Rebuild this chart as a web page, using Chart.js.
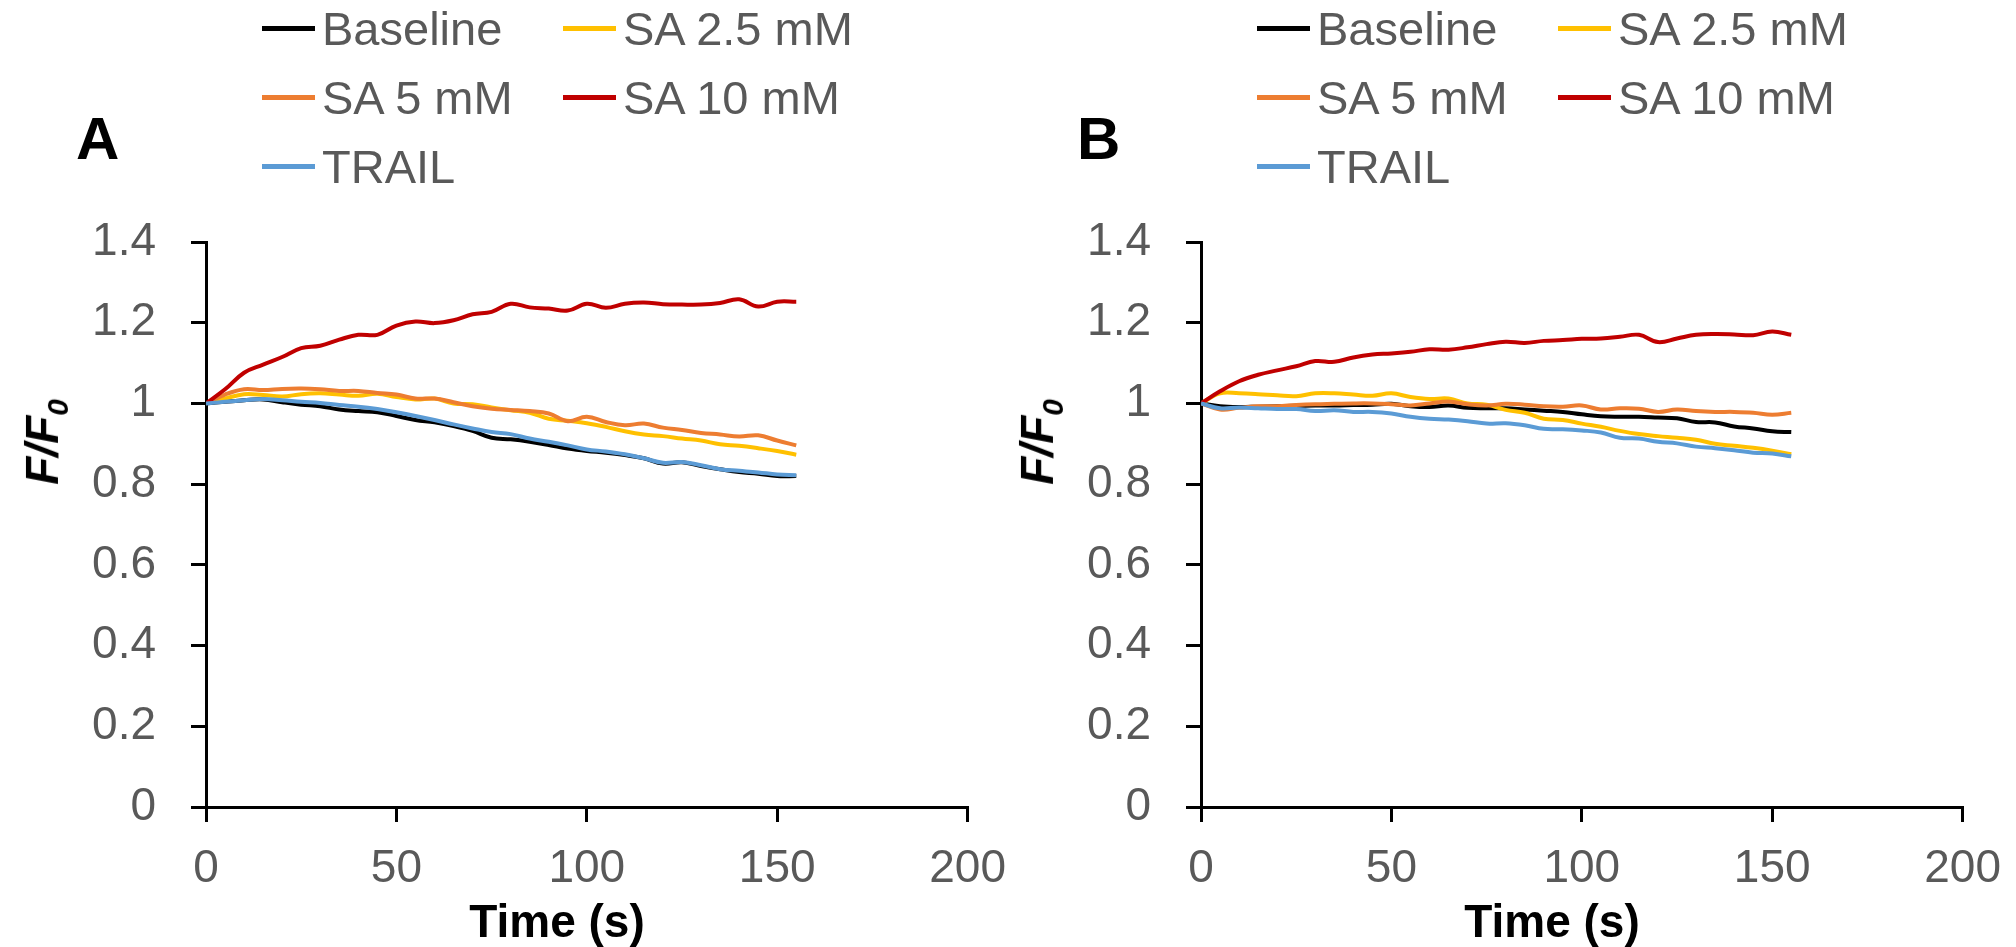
<!DOCTYPE html>
<html lang="en">
<head>
<meta charset="UTF-8" />
<title>F/F0 over time</title>
<script src="https://cdn.jsdelivr.net/npm/chart.js"></script>
<style>
  body {
    margin: 0;
    background: #fff;
    font-family: "Liberation Sans", Arial, sans-serif;
  }
  #page {
    position: relative;
    width: 2016px;
    height: 947px;
    overflow: hidden;
  }
  .panel {
    position: absolute;
    top: 0;
    width: 1008px;
    height: 947px;
  }
  .panel canvas {
    position: absolute;
    left: 0;
    top: 0;
  }
  .letter {
    position: absolute;
    top: 109px;
    font-size: 60px;
    font-weight: bold;
    line-height: 1;
    color: #000;
  }
  .ytitle {
    position: absolute;
    left: 46px;
    top: 442px;
    transform: translate(-50%, -50%) rotate(-90deg);
    font-size: 46px;
    font-weight: bold;
    font-style: italic;
    line-height: 1;
    white-space: nowrap;
    color: #000;
  }
  .ytitle sub {
    font-size: 0.65em;
  }
  .xtitle {
    position: absolute;
    left: 557px;
    top: 898px;
    transform: translateX(-50%);
    font-size: 46px;
    font-weight: bold;
    line-height: 1;
    white-space: nowrap;
    color: #000;
  }
  .legend {
    position: absolute;
    left: 262px;
    top: -6px;
    display: grid;
    grid-template-columns: 301px auto;
    grid-auto-rows: 69px;
  }
  .legend .item {
    display: flex;
    align-items: center;
    font-size: 47px;
    line-height: 1;
    color: #595959;
    white-space: nowrap;
  }
  .legend .swatch {
    display: inline-block;
    width: 53px;
    height: 5px;
    margin-right: 7px;
  }
</style>
</head>
<body>
<div id="page">
  <div class="panel" id="panelA" style="left:0px">
    <canvas id="chartA" width="1026" height="947"></canvas>
    <div class="legend" id="legendA"></div>
    <div class="letter" style="left:76px">A</div>
    <div class="ytitle">F/F<sub>0</sub></div>
    <div class="xtitle">Time (s)</div>
  </div>
  <div class="panel" id="panelB" style="left:995px">
    <canvas id="chartB" width="1026" height="947"></canvas>
    <div class="legend" id="legendB"></div>
    <div class="letter" style="left:82px">B</div>
    <div class="ytitle">F/F<sub>0</sub></div>
    <div class="xtitle">Time (s)</div>
  </div>
</div>

<script>
  // time points (s)
  const time = [0, 5, 10, 15, 20, 25, 30, 35, 40, 45, 50, 55, 60, 65, 70, 75,
                80, 85, 90, 95, 100, 105, 110, 115, 120, 125, 130, 135, 140, 145, 150, 155];

  const seriesNames = ['Baseline', 'SA 2.5 mM', 'SA 5 mM', 'SA 10 mM', 'TRAIL'];
  const lineColors = ['#000000', '#FFC000', '#ED7D31', '#C00000', '#5B9BD5'];

  const yTicks = [0, 0.2, 0.4, 0.6, 0.8, 1, 1.2, 1.4];
  const xTicks = [0, 50, 100, 150, 200];

  // panel A
  const baselineA = [1.0, 1.004, 1.008, 1.010, 1.003, 0.997, 0.993, 0.985, 0.981, 0.978, 0.969, 0.959, 0.953, 0.944, 0.932, 0.915,
                     0.911, 0.905, 0.897, 0.888, 0.882, 0.878, 0.872, 0.864, 0.851, 0.854, 0.845, 0.837, 0.830, 0.826, 0.820, 0.820];
  const sa25A = [1.0, 1.012, 1.023, 1.021, 1.017, 1.023, 1.025, 1.022, 1.019, 1.024, 1.016, 1.010, 1.012, 1.0, 0.998, 0.990,
                 0.983, 0.977, 0.962, 0.957, 0.951, 0.942, 0.931, 0.923, 0.919, 0.913, 0.908, 0.899, 0.895, 0.889, 0.882, 0.873];
  const sa5A = [1.0, 1.022, 1.035, 1.033, 1.036, 1.037, 1.035, 1.031, 1.031, 1.026, 1.022, 1.012, 1.012, 1.003, 0.993, 0.987,
                0.984, 0.981, 0.975, 0.956, 0.967, 0.954, 0.946, 0.950, 0.940, 0.934, 0.927, 0.923, 0.918, 0.921, 0.908, 0.896];
  const sa10A = [1.0, 1.035, 1.076, 1.096, 1.115, 1.137, 1.143, 1.158, 1.170, 1.170, 1.193, 1.203, 1.199, 1.206, 1.221, 1.227,
                 1.247, 1.238, 1.235, 1.230, 1.247, 1.237, 1.247, 1.250, 1.246, 1.245, 1.245, 1.249, 1.258, 1.240, 1.252, 1.252];
  const trailA = [1.0, 1.004, 1.008, 1.011, 1.008, 1.004, 1.001, 0.996, 0.992, 0.986, 0.978, 0.969, 0.959, 0.948, 0.938, 0.929,
                  0.924, 0.913, 0.905, 0.896, 0.886, 0.881, 0.874, 0.864, 0.853, 0.855, 0.847, 0.837, 0.833, 0.829, 0.824, 0.822];

  // panel B
  const baselineB = [1.0, 0.993, 0.991, 0.992, 0.993, 0.994, 0.995, 0.995, 0.996, 0.997, 0.999, 0.993, 0.991, 0.995, 0.989, 0.988,
                     0.988, 0.985, 0.982, 0.979, 0.973, 0.968, 0.967, 0.967, 0.965, 0.963, 0.954, 0.953, 0.943, 0.938, 0.931, 0.929];
  const sa25B = [1.0, 1.025, 1.025, 1.023, 1.020, 1.018, 1.025, 1.025, 1.022, 1.019, 1.025, 1.016, 1.011, 1.012, 1.0, 0.997,
                 0.984, 0.977, 0.962, 0.959, 0.950, 0.942, 0.932, 0.924, 0.919, 0.915, 0.910, 0.900, 0.895, 0.890, 0.883, 0.874];
  const sa5B = [1.0, 0.985, 0.989, 0.993, 0.993, 0.996, 0.998, 0.999, 1.0, 1.0, 0.998, 0.995, 1.0, 1.005, 0.998, 0.995,
                0.999, 0.997, 0.993, 0.992, 0.995, 0.985, 0.988, 0.987, 0.979, 0.985, 0.981, 0.979, 0.979, 0.977, 0.972, 0.977];
  const sa10B = [1.0, 1.030, 1.055, 1.071, 1.082, 1.092, 1.105, 1.103, 1.114, 1.121, 1.124, 1.128, 1.134, 1.133, 1.139, 1.147,
                 1.153, 1.150, 1.155, 1.157, 1.160, 1.161, 1.165, 1.170, 1.152, 1.161, 1.170, 1.172, 1.171, 1.169, 1.178, 1.170];
  const trailB = [1.0, 0.988, 0.990, 0.988, 0.986, 0.986, 0.981, 0.983, 0.979, 0.979, 0.975, 0.967, 0.962, 0.960, 0.956, 0.950,
                  0.951, 0.946, 0.937, 0.936, 0.933, 0.928, 0.915, 0.913, 0.905, 0.901, 0.893, 0.889, 0.884, 0.878, 0.876, 0.869];

  Chart.defaults.font.family = '"Liberation Sans", Arial, sans-serif';

  function buildChart(canvasId, legendId, seriesValues) {
    const datasets = seriesValues.map((vals, i) => ({
      label: seriesNames[i],
      data: time.map((t, j) => ({ x: t, y: vals[j] })),
      borderColor: lineColors[i],
      backgroundColor: lineColors[i],
      borderWidth: 4,
      pointRadius: 0,
      tension: 0.4,
      fill: false,
      // later series drawn on top, like the original
      order: seriesNames.length - i
    }));

    const chart = new Chart(document.getElementById(canvasId), {
      type: 'line',
      data: { datasets },
      options: {
        responsive: false,
        animation: false,
        layout: { padding: { left: 0, right: 0, top: 242, bottom: 0 } },
        plugins: { legend: { display: false }, tooltip: { enabled: false } },
        scales: {
          x: {
            type: 'linear',
            min: 0,
            max: 200,
            afterBuildTicks: s => { s.ticks = xTicks.map(v => ({ value: v })); },
            afterFit: s => { s.height = 140; },
            ticks: { color: '#595959', font: { size: 46 }, padding: 20, maxRotation: 0 },
            grid: { drawOnChartArea: false, color: '#000', lineWidth: 3, tickLength: 15 },
            border: { color: '#000', width: 3 }
          },
          y: {
            min: 0,
            max: 1.4,
            afterBuildTicks: s => { s.ticks = yTicks.map(v => ({ value: v })); },
            afterFit: s => { s.width = 206; },
            ticks: {
              color: '#595959',
              font: { size: 46 },
              padding: 35,
              callback: v => String(+v.toFixed(1))
            },
            grid: { drawOnChartArea: false, color: '#000', lineWidth: 3, tickLength: 15 },
            border: { color: '#000', width: 3 }
          }
        }
      }
    });

    // two-column legend, in series order
    const legend = document.getElementById(legendId);
    chart.data.datasets.forEach(ds => {
      const item = document.createElement('div');
      item.className = 'item';
      const sw = document.createElement('span');
      sw.className = 'swatch';
      sw.style.background = ds.borderColor;
      item.appendChild(sw);
      item.appendChild(document.createTextNode(ds.label));
      legend.appendChild(item);
    });
    return chart;
  }

  buildChart('chartA', 'legendA', [baselineA, sa25A, sa5A, sa10A, trailA]);
  buildChart('chartB', 'legendB', [baselineB, sa25B, sa5B, sa10B, trailB]);
</script>
</body>
</html>
